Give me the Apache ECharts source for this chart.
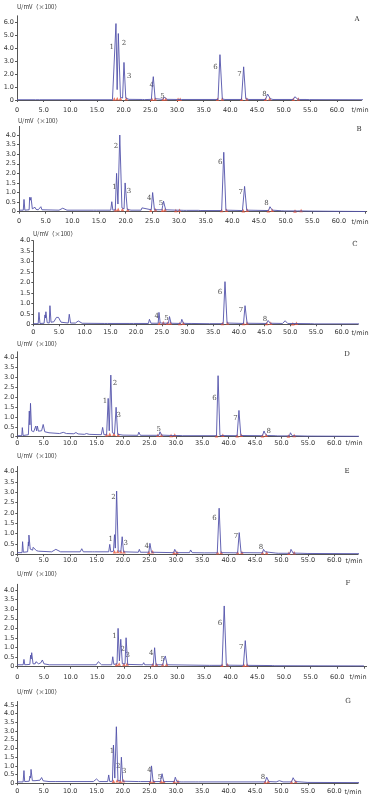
<!DOCTYPE html>
<html>
<head>
<meta charset="utf-8">
<script src="https://cdn.jsdelivr.net/npm/echarts@6/dist/echarts.min.js"></script>
<style>
  html, body { margin: 0; padding: 0; background: #fff; }
  #chart { width: 374px; height: 800px; }
</style>
</head>
<body>
<div id="chart"></div>
<script>
// 色谱图 A-G，时间 t/min，响应 U/mV (×100)
var panelNames = ['A', 'B', 'C', 'D', 'E', 'F', 'G'];

// 各色谱曲线的读点 [t, U]
var traceA = [[0,0.02],[3.5,0.02],[3.8,0.12],[4.2,0.02],[17.9,0.02],[18.2,0.1],[18.56,5.9],[18.78,0.8],[19.0,5.13],[19.4,0.2],[19.8,0.15],[20.06,2.9],[20.4,0.15],[21.0,0.05],[23.5,0.04],[23.7,0.08],[23.9,0.03],[25.2,0.05],[25.4,1.2],[25.56,1.8],[25.9,0.1],[27.3,0.05],[27.7,0.22],[28.1,0.05],[30.1,0.04],[30.4,0.15],[30.8,0.04],[37.7,0.04],[38.06,3.5],[38.5,0.08],[39.0,0.04],[42.1,0.04],[42.5,2.56],[42.9,0.1],[43.5,0.04],[46.6,0.04],[47.0,0.46],[47.5,0.1],[48.0,0.04],[51.8,0.04],[52.1,0.25],[52.6,0.08],[53.0,0.04],[54.2,0.04],[54.4,0.1],[54.8,0.03],[65,0.02]];
var traceB = [[0,0.08],[0.8,0.08],[0.94,0.64],[1.1,0.08],[1.9,0.1],[2.0,0.75],[2.12,0.6],[2.25,0.75],[2.5,0.15],[2.8,0.12],[3.0,0.23],[3.2,0.12],[3.4,0.18],[3.6,0.1],[3.95,0.1],[4.1,0.26],[4.3,0.1],[7.5,0.08],[8.2,0.18],[9.0,0.08],[14.0,0.08],[14.25,0.13],[14.5,0.08],[17.2,0.08],[17.4,0.52],[17.6,0.08],[18.05,0.1],[18.3,2.0],[18.55,0.4],[18.9,4.0],[19.3,0.2],[19.7,0.15],[19.9,1.5],[20.3,0.12],[21,0.08],[22.9,0.08],[23.06,0.2],[23.3,0.1],[24.8,0.1],[25.06,1.0],[25.4,0.1],[26.8,0.1],[26.95,0.32],[27.1,0.55],[27.5,0.1],[29.4,0.08],[29.7,0.16],[30.1,0.08],[30.9,0.07],[31.1,0.12],[31.4,0.07],[33.6,0.07],[33.8,0.09],[34.1,0.06],[38.0,0.06],[38.4,3.1],[38.8,0.08],[41.9,0.06],[42.3,1.32],[42.7,0.08],[46.8,0.06],[47.06,0.26],[47.5,0.08],[49.2,0.05],[49.4,0.09],[49.7,0.04],[52.2,0.04],[52.4,0.07],[52.8,0.04],[55.0,0.03],[65,0.01]];
var traceC = [[0,0.03],[0.95,0.03],[1.1,0.57],[1.3,0.04],[2.1,0.05],[2.27,0.45],[2.35,0.3],[2.45,0.6],[2.7,0.08],[3.1,0.06],[3.24,0.89],[3.45,0.1],[4.0,0.12],[4.5,0.33],[4.9,0.33],[5.4,0.1],[6.8,0.06],[7.0,0.48],[7.25,0.06],[8.2,0.06],[8.75,0.16],[9.5,0.05],[13.8,0.04],[14.1,0.09],[14.4,0.04],[18.8,0.04],[19.1,0.08],[19.5,0.04],[22.4,0.04],[22.6,0.24],[22.9,0.05],[24.3,0.05],[24.45,0.57],[24.7,0.06],[26.3,0.05],[26.5,0.37],[26.8,0.05],[28.7,0.04],[28.9,0.24],[29.2,0.05],[30.1,0.04],[30.35,0.12],[30.7,0.04],[33.8,0.03],[34.0,0.07],[34.3,0.03],[36.95,0.03],[37.3,2.04],[37.7,0.06],[40.9,0.04],[41.2,0.89],[41.6,0.05],[45.4,0.04],[45.7,0.18],[46.1,0.05],[48.5,0.04],[49.0,0.17],[49.5,0.04],[54.0,0.03],[54.3,0.1],[54.7,0.02],[65,0.02]];
var traceD = [[0,0.05],[0.85,0.05],[0.95,0.46],[1.1,0.06],[2.1,0.1],[2.27,1.3],[2.38,0.6],[2.5,1.69],[2.7,0.3],[2.9,0.34],[3.1,0.25],[3.4,0.25],[3.5,0.54],[3.65,0.3],[3.8,0.54],[4.0,0.28],[4.3,0.3],[4.6,0.3],[4.9,0.62],[5.2,0.25],[6.0,0.2],[8.0,0.16],[8.7,0.22],[9.3,0.16],[10.7,0.15],[11.1,0.21],[11.5,0.14],[12.7,0.12],[13.1,0.16],[13.6,0.12],[15.9,0.1],[16.15,0.47],[16.4,0.1],[16.9,0.1],[17.2,1.94],[17.4,0.3],[17.7,3.12],[18.0,0.2],[18.4,0.15],[18.7,1.49],[19.0,0.12],[20,0.08],[22.8,0.07],[23.0,0.23],[23.3,0.07],[26.8,0.07],[27.0,0.25],[27.3,0.08],[29.3,0.06],[29.6,0.15],[30.0,0.06],[30.8,0.06],[31.0,0.1],[31.3,0.05],[37.7,0.05],[38.0,3.09],[38.35,0.06],[41.6,0.05],[41.95,1.33],[42.3,0.06],[46.4,0.05],[46.7,0.29],[46.9,0.15],[47.0,0.2],[47.3,0.06],[48.8,0.05],[49.0,0.1],[49.3,0.04],[51.5,0.04],[51.7,0.2],[52.0,0.05],[55,0.03],[65,0.02]];
var traceE = [[0,0.08],[0.9,0.08],[1.0,0.61],[1.15,0.1],[1.95,0.12],[2.1,0.6],[2.15,0.4],[2.2,0.93],[2.45,0.25],[2.9,0.2],[3.0,0.34],[3.15,0.25],[3.3,0.27],[3.6,0.18],[4.0,0.15],[4.1,0.21],[4.3,0.12],[6.5,0.12],[7.3,0.24],[8.2,0.12],[11.9,0.12],[12.2,0.27],[12.5,0.12],[14.2,0.12],[14.4,0.21],[14.6,0.12],[17.3,0.12],[17.5,0.48],[17.7,0.12],[18.2,0.15],[18.4,0.95],[18.55,0.3],[18.8,3.06],[19.1,0.15],[19.6,0.15],[19.85,0.85],[20.1,0.12],[22.9,0.1],[23.1,0.24],[23.3,0.1],[24.9,0.1],[25.1,0.53],[25.4,0.1],[29.6,0.08],[29.8,0.24],[30.1,0.08],[32.6,0.08],[32.8,0.21],[33.1,0.08],[35.4,0.07],[35.6,0.12],[35.9,0.07],[37.85,0.07],[38.2,2.23],[38.55,0.08],[41.7,0.07],[42.0,1.05],[42.35,0.08],[46.4,0.07],[46.6,0.24],[46.9,0.12],[47.2,0.07],[48.9,0.06],[49.1,0.12],[49.4,0.05],[51.6,0.05],[51.8,0.24],[52.2,0.06],[55,0.04],[65,0.03]];
var traceF = [[0,0.1],[1.1,0.1],[1.25,0.38],[1.4,0.1],[2.35,0.12],[2.5,0.6],[2.6,0.4],[2.7,0.73],[2.95,0.15],[3.35,0.15],[3.5,0.26],[3.65,0.18],[3.8,0.25],[4.0,0.15],[4.4,0.2],[4.7,0.35],[5.0,0.15],[6,0.1],[9.5,0.1],[9.75,0.13],[10,0.1],[14.8,0.1],[15.2,0.26],[15.3,0.2],[15.5,0.27],[15.8,0.1],[17.7,0.1],[17.9,0.52],[18.1,0.12],[18.7,0.15],[18.9,2.0],[19.15,0.3],[19.4,1.43],[19.7,0.15],[20.2,0.15],[20.4,1.51],[20.7,0.12],[23.5,0.1],[23.7,0.21],[23.9,0.1],[25.5,0.1],[25.75,0.99],[26.0,0.1],[27.3,0.1],[27.45,0.35],[27.6,0.25],[27.75,0.56],[28.1,0.1],[36.0,0.07],[36.25,0.1],[36.5,0.07],[38.4,0.07],[38.8,3.17],[39.2,0.08],[42.4,0.07],[42.75,1.36],[43.1,0.07],[47.8,0.06],[48.0,0.08],[48.3,0.05],[65,0.04]];
var traceG = [[0,0.08],[1.1,0.08],[1.26,0.73],[1.4,0.1],[2.25,0.12],[2.4,0.42],[2.5,0.3],[2.6,0.8],[2.85,0.15],[3.35,0.15],[3.5,0.23],[3.7,0.15],[4.3,0.18],[4.6,0.33],[4.9,0.14],[6,0.1],[7.3,0.1],[7.5,0.13],[7.7,0.1],[14.4,0.1],[15.0,0.25],[15.5,0.1],[17.1,0.1],[17.3,0.48],[17.5,0.1],[18.0,0.12],[18.2,2.2],[18.45,0.3],[18.75,3.25],[19.05,0.15],[19.5,0.15],[19.7,1.5],[19.95,0.12],[22.9,0.1],[23.1,0.2],[23.3,0.1],[25.2,0.1],[25.4,1.0],[25.7,0.1],[27.1,0.1],[27.2,0.3],[27.3,0.2],[27.4,0.55],[27.7,0.1],[29.7,0.1],[29.9,0.35],[30.2,0.1],[31.0,0.08],[31.2,0.15],[31.4,0.08],[33.8,0.08],[34.0,0.12],[34.3,0.08],[46.9,0.08],[47.2,0.35],[47.6,0.1],[49.0,0.08],[49.6,0.15],[50.3,0.08],[51.9,0.08],[52.2,0.32],[52.6,0.1],[55,0.05],[65,0.04]];

// 峰号标注 [t, U, 峰号]
var peaksA = [[17.75,4.1,'1'],[20.06,4.36,'2'],[21.06,1.85,'3'],[25.25,1.15,'4'],[27.3,0.26,'5'],[37.2,2.56,'6'],[41.7,1.97,'7'],[46.4,0.46,'8']];
var peaksB = [[17.9,1.27,'1'],[18.2,3.44,'2'],[20.6,1.08,'3'],[24.4,0.68,'4'],[26.6,0.42,'5'],[37.75,2.6,'6'],[41.6,1.04,'7'],[46.4,0.42,'8']];
var peaksC = [[24.0,0.37,'4'],[25.9,0.29,'5'],[36.3,1.56,'6'],[40.4,0.69,'7'],[45.1,0.24,'8']];
var peaksD = [[16.6,1.82,'1'],[18.5,2.73,'2'],[19.2,1.1,'3'],[26.75,0.39,'5'],[37.3,1.94,'6'],[41.3,0.96,'7'],[47.6,0.29,'8']];
var peaksE = [[17.7,0.74,'1'],[18.2,2.76,'2'],[20.5,0.53,'3'],[24.5,0.4,'4'],[37.3,1.74,'6'],[41.4,0.89,'7'],[46.1,0.34,'8']];
var peaksF = [[18.2,1.57,'1'],[19.75,0.9,'2'],[20.7,0.61,'3'],[25.1,0.7,'4'],[27.25,0.38,'5'],[38.0,2.26,'6'],[42.0,1.04,'7']];
var peaksG = [[17.9,1.85,'1'],[19.1,1.0,'2'],[20.25,0.7,'3'],[25.0,0.75,'4'],[27.0,0.35,'5'],[46.5,0.33,'8']];

// 积分起止点（红色标记）[t, U]
var marksA = [[18.25,0.08],[18.8,0.1],[19.4,0.1],[20.5,0.1],[25.3,0.06],[25.9,0.08],[27.4,0.06],[27.9,0.08],[30.2,0.05],[30.6,0.06],[37.6,0.05],[38.5,0.08],[42.1,0.05],[43.1,0.08],[46.6,0.05],[47.4,0.1],[51.8,0.05],[52.75,0.08]];
var marksB = [[18.1,0.1],[18.6,0.12],[19.4,0.12],[20.4,0.1],[24.7,0.08],[25.6,0.1],[26.9,0.08],[27.4,0.1],[29.4,0.06],[30.1,0.08],[38.0,0.06],[38.9,0.08],[42.06,0.05],[42.8,0.08],[46.75,0.05],[47.5,0.08],[51.75,0.04],[52.9,0.06]];
var marksC = [[24.5,0.05],[25.3,0.07],[26.1,0.05],[26.7,0.06],[28.5,0.04],[29.2,0.05],[36.8,0.04],[37.8,0.06],[40.9,0.04],[41.6,0.06],[45.4,0.04],[46.2,0.05],[50.5,0.03],[51.2,0.05]];
var marksD = [[16.9,0.1],[17.5,0.12],[18.3,0.12],[19.1,0.1],[26.6,0.07],[27.3,0.09],[29.1,0.06],[29.8,0.08],[37.7,0.05],[38.9,0.07],[41.6,0.05],[42.4,0.07],[46.4,0.05],[47.1,0.07],[51.3,0.04],[52.4,0.06]];
var marksE = [[18.4,0.12],[19.0,0.14],[19.6,0.12],[20.2,0.12],[24.9,0.1],[25.6,0.12],[29.65,0.08],[30.2,0.1],[37.9,0.07],[38.6,0.09],[41.7,0.07],[42.5,0.09],[46.4,0.07],[47.2,0.08],[51.4,0.05],[52.4,0.07]];
var marksF = [[18.6,0.12],[19.1,0.14],[20.0,0.12],[20.6,0.14],[25.4,0.1],[26.1,0.12],[27.25,0.1],[28.0,0.12],[38.4,0.07],[39.4,0.1],[42.5,0.07],[43.1,0.09]];
var marksG = [[18.2,0.12],[18.9,0.14],[19.5,0.12],[20.1,0.14],[25.2,0.1],[25.8,0.12],[27.2,0.1],[27.7,0.12],[29.7,0.1],[30.4,0.12],[46.9,0.08],[47.5,0.1],[51.9,0.08],[52.7,0.1]];

var traces = [traceA, traceB, traceC, traceD, traceE, traceF, traceG];
var peakLabels = [peaksA, peaksB, peaksC, peaksD, peaksE, peaksF, peaksG];
var marks = [marksA, marksB, marksC, marksD, marksE, marksF, marksG];
var yMax = [6.5, 4.45, 4.0, 4.3, 4.25, 4.3, 4.7];
var yStep = [1, 0.5, 0.5, 0.5, 0.5, 0.5, 0.5];
var xMax = [64.6, 65.2, 63.2, 64.5, 64.5, 65.5, 64.5];

// 版面：每个子图的位置（像素）
var layout = [
  { left: 17,   top: 15.8,  width: 344.5, height: 84.2, lblGap: 6.5, name: [17, 7],   letter: [357, 19],  tmin: [360, 110] },
  { left: 19,   top: 126.4, width: 347.7, height: 85.3, lblGap: 6.5, name: [18, 121], letter: [359, 129], tmin: [360, 222] },
  { left: 33.3, top: 240.7, width: 324.8, height: 83.6, lblGap: 5,   name: [33, 234], letter: [355, 244], tmin: [360, 333] },
  { left: 17.3, top: 351.8, width: 340.8, height: 84.9, lblGap: 3,   name: [17, 344], letter: [347, 354], tmin: [354, 443] },
  { left: 17.3, top: 466.5, width: 340.8, height: 87.8, lblGap: 3,   name: [17, 456], letter: [347, 471], tmin: [354, 561] },
  { left: 17.3, top: 584.3, width: 349.3, height: 82.4, lblGap: 7,   name: [17, 574], letter: [348, 583], tmin: [358, 677] },
  { left: 17.3, top: 701.5, width: 340.8, height: 81.8, lblGap: 5,   name: [17, 692], letter: [348, 701], tmin: [353, 792] }
];

var axisColor = '#555';
var textFont = 'DejaVu Sans';
var grids = [], xAxes = [], yAxes = [], series = [], graphics = [];

panelNames.forEach(function (name, i) {
  var L = layout[i];
  // 最大值正好落在刻度上时才显示顶端标签
  var topOnTick = Math.abs(yMax[i] / yStep[i] - Math.round(yMax[i] / yStep[i])) < 1e-6;
  grids.push({ left: L.left, top: L.top, width: L.width, height: L.height });
  xAxes.push({
    type: 'value', gridIndex: i, min: 0, max: xMax[i], interval: 5,
    axisLine: { lineStyle: { color: axisColor, width: 1 } },
    axisTick: { length: 2, lineStyle: { color: axisColor } },
    splitLine: { show: false },
    axisLabel: {
      fontSize: 6.5, color: '#333', fontFamily: textFont, margin: L.lblGap, showMaxLabel: false,
      formatter: function (v) {
        if (v % 5 !== 0 || v > 60) return '';
        return v === 0 ? '0' : v.toFixed(1);
      }
    }
  });
  yAxes.push({
    type: 'value', gridIndex: i, min: 0, max: yMax[i], interval: yStep[i],
    axisLine: { show: true, lineStyle: { color: axisColor, width: 1 } },
    axisTick: { show: true, length: 2, lineStyle: { color: axisColor } },
    splitLine: { show: false },
    axisLabel: {
      fontSize: 6.5, color: '#333', fontFamily: textFont, margin: 3, showMaxLabel: topOnTick,
      formatter: function (v) { return v === 0 ? '0' : v.toFixed(1); }
    }
  });
  series.push({
    type: 'line', xAxisIndex: i, yAxisIndex: i, data: traces[i],
    showSymbol: false, symbol: 'none', silent: true,
    lineStyle: { color: '#5252aa', width: 0.9 }
  });
  series.push({
    type: 'scatter', xAxisIndex: i, yAxisIndex: i, data: marks[i],
    symbol: 'triangle', symbolSize: 3.5, silent: true,
    itemStyle: { color: '#e5533a' }
  });
  series.push({
    type: 'scatter', xAxisIndex: i, yAxisIndex: i, data: peakLabels[i],
    symbolSize: 0, silent: true,
    label: {
      show: true, position: 'inside', fontSize: 7, color: '#222',
      fontFamily: 'DejaVu Serif',
      formatter: function (p) { return p.value[2]; }
    }
  });
  graphics.push({
    type: 'text', x: L.name[0], y: L.name[1],
    style: { text: 'U/mV（×100）', fontSize: 6, fontFamily: 'Noto Sans CJK SC', fill: '#333', align: 'left', verticalAlign: 'middle' }
  });
  graphics.push({
    type: 'text', x: L.letter[0], y: L.letter[1],
    style: { text: name, fontSize: 7, fontFamily: 'DejaVu Serif', fill: '#333', align: 'center', verticalAlign: 'middle' }
  });
  graphics.push({
    type: 'text', x: L.tmin[0], y: L.tmin[1],
    style: { text: 't/min', fontSize: 6.5, fontFamily: textFont, fill: '#333', align: 'center', verticalAlign: 'middle' }
  });
});

var myChart = echarts.init(document.getElementById('chart'));
myChart.setOption({
  animation: false,
  backgroundColor: '#fff',
  grid: grids,
  xAxis: xAxes,
  yAxis: yAxes,
  series: series,
  graphic: graphics
});
</script>
</body>
</html>
